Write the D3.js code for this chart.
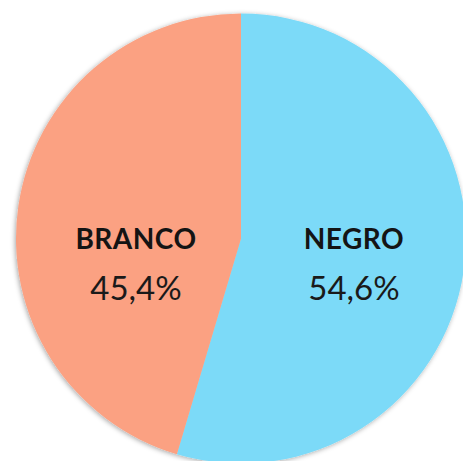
<!DOCTYPE html>
<html>
<head>
<meta charset="utf-8">
<script src="https://cdn.jsdelivr.net/npm/d3@7"></script>
<style>
  html, body { margin: 0; padding: 0; background: #fff; }
  svg { display: block; }
</style>
</head>
<body>
<svg width="463" height="461"></svg>
<script>
// chart data
var categories = ["NEGRO", "BRANCO"];
var values = [54.6, 45.4];
var valueLabels = ["54,6%", "45,4%"];
var colors = ["#7cdaf8", "#fba182"];

var svg = d3.select("svg");

var cx = 241, cy = 238.5, radius = 225;

// soft grey halo round the disc
var defs = svg.append("defs");
var f = defs.append("filter").attr("id", "halo")
    .attr("x", "-10%").attr("y", "-10%").attr("width", "120%").attr("height", "120%");
f.append("feDropShadow")
    .attr("dx", -1).attr("dy", 1)
    .attr("stdDeviation", 2.5)
    .attr("flood-color", "#000")
    .attr("flood-opacity", 0.35);

var data = categories.map(function(c, i) {
  return {name: c, value: values[i], label: valueLabels[i], color: colors[i]};
});

var pie = d3.pie().sort(null).value(function(d) { return d.value; });
var arc = d3.arc().innerRadius(0).outerRadius(radius);

var g = svg.append("g").attr("transform", "translate(" + cx + "," + cy + ")");

g.append("g").attr("filter", "url(#halo)")
  .selectAll("path")
  .data(pie(data))
  .enter().append("path")
    .attr("d", arc)
    .attr("fill", function(d) { return d.data.color; });

// labels sit in the middle of each half, same height
var labels = g.selectAll(".lbl")
  .data(pie(data))
  .enter().append("g")
    .attr("class", "lbl")
    .attr("transform", function(d) {
      var x = d.data.name === "NEGRO" ? 113 : -105;
      return "translate(" + x + ",0)";
    });

labels.append("text")
    .attr("text-anchor", "middle")
    .attr("y", 10)
    .style("font-family", "Lato, 'Open Sans', sans-serif")
    .style("font-weight", 700)
    .style("font-size", "28px")
    .style("letter-spacing", "0.5px")
    .style("fill", "#141414")
    .text(function(d) { return d.data.name; });

labels.append("text")
    .attr("text-anchor", "middle")
    .attr("y", 61)
    .style("font-family", "Lato, 'Open Sans', sans-serif")
    .style("font-weight", 400)
    .style("font-size", "33px")
    .style("fill", "#1a1a1a")
    .text(function(d) { return d.data.label; });
</script>
</body>
</html>
